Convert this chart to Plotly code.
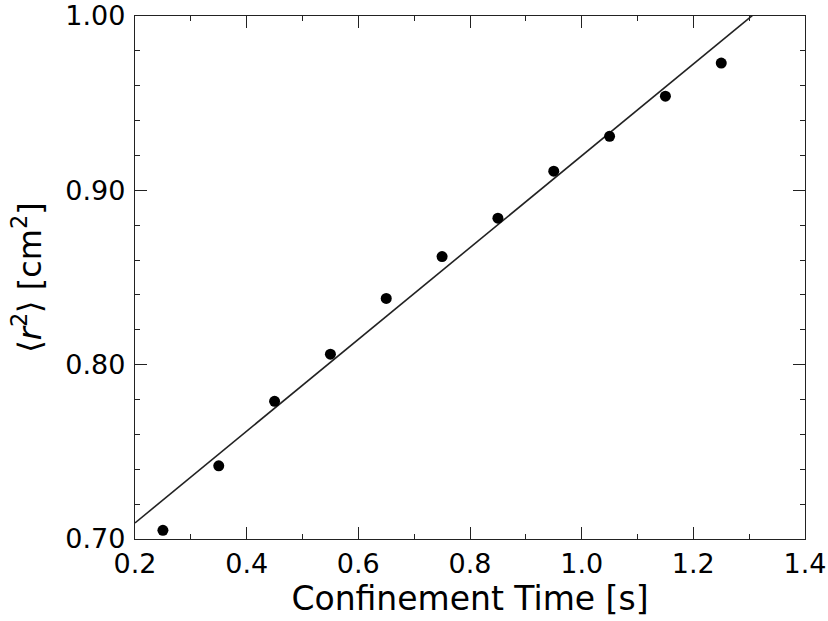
import plotly.graph_objects as go

# Data
time_s = [0.25, 0.35, 0.45, 0.55, 0.65, 0.75, 0.85, 0.95, 1.05, 1.15, 1.25]
r2_cm2 = [0.705, 0.742, 0.779, 0.806, 0.838, 0.862, 0.884, 0.911, 0.931, 0.954, 0.973]
fit_x = [0.2, 1.4]
fit_y = [0.7092, 1.0251]

x_ticks = [0.2, 0.4, 0.6, 0.8, 1.0, 1.2, 1.4]
x_ticklabels = ["0.2", "0.4", "0.6", "0.8", "1.0", "1.2", "1.4"]
y_ticks = [0.70, 0.80, 0.90, 1.00]
y_ticklabels = ["0.70", "0.80", "0.90", "1.00"]

FONT = "DejaVu Sans"
AX = "#222222"

fig = go.Figure()
fig.add_trace(go.Scatter(x=fit_x, y=fit_y, mode="lines",
                         line=dict(color="#222222", width=1.6),
                         showlegend=False, hoverinfo="skip"))
fig.add_trace(go.Scatter(x=time_s, y=r2_cm2, mode="markers",
                         marker=dict(color="black", size=11),
                         showlegend=False))

common = dict(showline=True, linecolor=AX, linewidth=1.3, mirror="allticks",
              ticks="inside", ticklen=12, tickwidth=1.3, tickcolor=AX,
              showgrid=False, zeroline=False, automargin=False,
              ticklabeloverflow="allow",
              tickfont=dict(family=FONT, size=27, color="black"))

fig.update_xaxes(range=[0.2, 1.4], tickvals=x_ticks, ticktext=x_ticklabels,
                 minor=dict(dtick=0.1, tick0=0.2, ticks="inside", ticklen=5,
                            tickwidth=1.2, tickcolor=AX),
                 title=dict(text="Confinement Time [s]",
                            font=dict(family=FONT, size=33, color="black"),
                            standoff=4),
                 **common)
fig.update_yaxes(range=[0.70, 1.00], tickvals=y_ticks, ticktext=y_ticklabels,
                 minor=dict(dtick=0.02, tick0=0.70, ticks="inside", ticklen=5,
                            tickwidth=1.2, tickcolor=AX),
                 ticklabelstandoff=3,
                 title=dict(text="⟨<i>r</i><sup>2</sup>⟩ [cm<sup>2</sup>]",
                            font=dict(family=FONT, size=32, color="black"),
                            standoff=14),
                 **common)

fig.update_layout(width=828, height=621,
                  margin=dict(l=135, r=23, t=16, b=82, pad=0),
                  plot_bgcolor="white", paper_bgcolor="white",
                  font=dict(family=FONT))

fig.write_html("out.html", config={"displayModeBar": False},
               post_script="document.body.style.margin='0';")
